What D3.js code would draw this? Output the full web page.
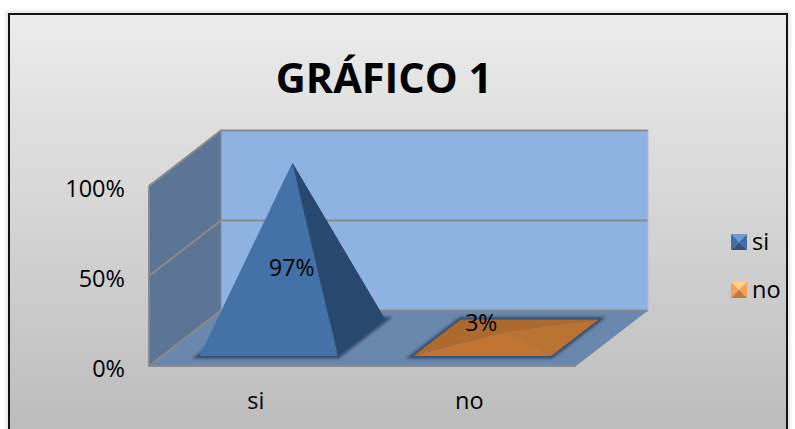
<!DOCTYPE html>
<html>
<head>
<meta charset="utf-8">
<script src="https://cdn.jsdelivr.net/npm/d3@7"></script>
<style>
  html, body { margin: 0; padding: 0; background: #fff; overflow: hidden; }
  text { font-family: "Open Sans", "Noto Sans", sans-serif; fill: #000; }
</style>
</head>
<body>
<div class="chart"></div>
<script>
var categories = ["si", "no"];
var values = [97, 3];
var valueLabels = ["97%", "3%"];
var yTicks = [0, 50, 100];
var title = "GRÁFICO 1";

var width = 795, height = 429;

var svg = d3.select(".chart").append("svg")
  .attr("width", width)
  .attr("height", height)
  .style("display", "block");

var defs = svg.append("defs");

var bg = defs.append("linearGradient").attr("id", "bg")
  .attr("x1", 0).attr("y1", 0).attr("x2", 0).attr("y2", 1);
bg.append("stop").attr("offset", "0%").attr("stop-color", "#ececec");
bg.append("stop").attr("offset", "100%").attr("stop-color", "#bcbcbc");

defs.append("filter").attr("id", "blur")
  .attr("x", "-20%").attr("y", "-40%").attr("width", "140%").attr("height", "180%")
  .append("feGaussianBlur").attr("stdDeviation", 1.8);

// soft halo round the frame
svg.append("rect")
  .attr("x", 7).attr("y", 12)
  .attr("width", 782).attr("height", 424)
  .attr("fill", "none")
  .attr("stroke", "#ccc")
  .attr("stroke-width", 1.5)
  .attr("filter", "url(#blur)");

svg.append("rect")
  .attr("x", 9).attr("y", 14)
  .attr("width", 778).attr("height", 420)
  .attr("fill", "url(#bg)")
  .attr("stroke", "#111")
  .attr("stroke-width", 2);

// front plane scales
var x = d3.scaleBand().domain(categories).range([149, 576]).paddingInner(0.354).paddingOuter(0.177);
var y = d3.scaleLinear().domain([0, 100]).range([366, 186]);
// depth goes from front (0) to back wall (1)
var depthX = d3.scaleLinear().domain([0, 1]).range([0, 72]);
var depthY = d3.scaleLinear().domain([0, 1]).range([0, -55.5]);

function pt(px, v, d) {
  return [px + depthX(d), y(v) + depthY(d)];
}
var poly = d3.line();
function shape(points) { return poly(points) + "Z"; }

var left = x.range()[0], right = x.range()[1];

// back wall
svg.append("path")
  .attr("d", shape([pt(left, 0, 1), pt(right, 0, 1), pt(right, 100, 1), pt(left, 100, 1)]))
  .attr("fill", "#8eb3e3");
// side wall
svg.append("path")
  .attr("d", shape([pt(left, 0, 0), pt(left, 0, 1), pt(left, 100, 1), pt(left, 100, 0)]))
  .attr("fill", "#5d7595");
// floor
svg.append("path")
  .attr("d", shape([pt(left, 0, 0), pt(right, 0, 0), pt(right, 0, 1), pt(left, 0, 1)]))
  .attr("fill", "#6a87ad");

// gridlines and wall edges
var grid = svg.append("g").attr("fill", "none").attr("stroke", "#8a8a8a").attr("stroke-width", 2);
yTicks.forEach(function(t) {
  grid.append("path")
    .attr("d", poly([pt(left, t, 0), pt(left, t, 1), pt(right, t, 1)]));
});
grid.append("path").attr("d", poly([pt(left, 100, 0), pt(left, 0, 0), pt(right, 0, 0)]));
grid.append("path").attr("d", poly([pt(left, 100, 1), pt(left, 0, 1)])).attr("stroke-width", 1);
grid.append("path").attr("d", poly([pt(right, 100, 1), pt(right, 0, 1)])).attr("stroke-width", 1).attr("stroke", "#a9bcd4");

// pyramids
var dFront = 0.18, dBack = 0.84, dMid = (dFront + dBack) / 2;
var frontFill = ["#4472a8", "#c27532"];
var sideFill = ["#284870", "#bb7334"];
var backFill = ["#284870", "#ad6a2e"];
var leftFill = ["#4472a8", "#ad6a2e"];
// label placement relative to the pyramid base centre
var labelDx = [36, 12], labelDy = [-62, -7];

categories.forEach(function(c, i) {
  var x0 = x(c), x1 = x(c) + x.bandwidth(), xm = x0 + x.bandwidth() / 2;
  var fl = pt(x0, 0, dFront), fr = pt(x1, 0, dFront),
      br = pt(x1, 0, dBack), bl = pt(x0, 0, dBack),
      apex = pt(xm, values[i], dMid);
  var g = svg.append("g").attr("class", "pyramid");

  g.append("path")
    .attr("d", shape([fl, fr, br, bl]))
    .attr("fill", "none")
    .attr("stroke", "#2f4360")
    .attr("stroke-width", 5)
    .attr("opacity", 0.9)
    .attr("filter", "url(#blur)");

  g.append("path").attr("d", shape([bl, br, apex])).attr("fill", backFill[i]);
  g.append("path").attr("d", shape([bl, fl, apex])).attr("fill", leftFill[i]);
  g.append("path").attr("d", shape([fr, br, apex])).attr("fill", sideFill[i]);
  g.append("path").attr("d", shape([fl, fr, apex])).attr("fill", frontFill[i]);
});

// data labels
categories.forEach(function(c, i) {
  var xm = x(c) + x.bandwidth() / 2;
  var base = pt(xm, 0, dMid);
  svg.append("text")
    .attr("x", base[0] + labelDx[i] - depthX(dMid))
    .attr("y", base[1] + labelDy[i])
    .attr("text-anchor", "middle")
    .style("font-size", "23px")
    .text(valueLabels[i]);
});

// axes
var yAxis = d3.axisLeft(y).tickValues(yTicks).tickFormat(function(d) { return d + "%"; }).tickSize(0).tickPadding(24);
var yG = svg.append("g").attr("transform", "translate(149,3)").call(yAxis);
yG.select(".domain").remove();
yG.selectAll("text").style("font-size", "23.5px").style("font-family", null);

var xAxis = d3.axisBottom(x).tickSize(0).tickPadding(0);
var xG = svg.append("g").attr("transform", "translate(0,392)").call(xAxis);
xG.select(".domain").remove();
xG.selectAll("text").style("font-size", "23.5px").style("font-family", null);

// title
svg.append("text")
  .attr("x", 384).attr("y", 93)
  .attr("text-anchor", "middle")
  .style("font-size", "41.5px")
  .style("font-weight", 700)
  .text(title);

// legend
var legendY = d3.scalePoint().domain(categories).range([242, 290]);
var swatchTop = ["#6c9ad4", "#ffd183"], swatchSide = ["#3f6ea6", "#f2a355"], swatchBottom = ["#2f5480", "#bb7a3e"];
categories.forEach(function(c, i) {
  var cy = legendY(c), x0 = 731, x1 = 747, y0 = cy - 8, y1 = cy + 8, mx = 739;
  var g = svg.append("g").attr("class", "legend");
  g.append("path").attr("d", shape([[x0, y0], [x1, y0], [mx, cy]])).attr("fill", swatchTop[i]);
  g.append("path").attr("d", shape([[x0, y0], [x0, y1], [mx, cy]])).attr("fill", swatchSide[i]);
  g.append("path").attr("d", shape([[x1, y0], [x1, y1], [mx, cy]])).attr("fill", swatchSide[i]);
  g.append("path").attr("d", shape([[x0, y1], [x1, y1], [mx, cy]])).attr("fill", swatchBottom[i]);
  g.append("text").attr("x", 752).attr("y", cy + 8).style("font-size", "23.5px").text(c);
});
</script>
</body>
</html>
